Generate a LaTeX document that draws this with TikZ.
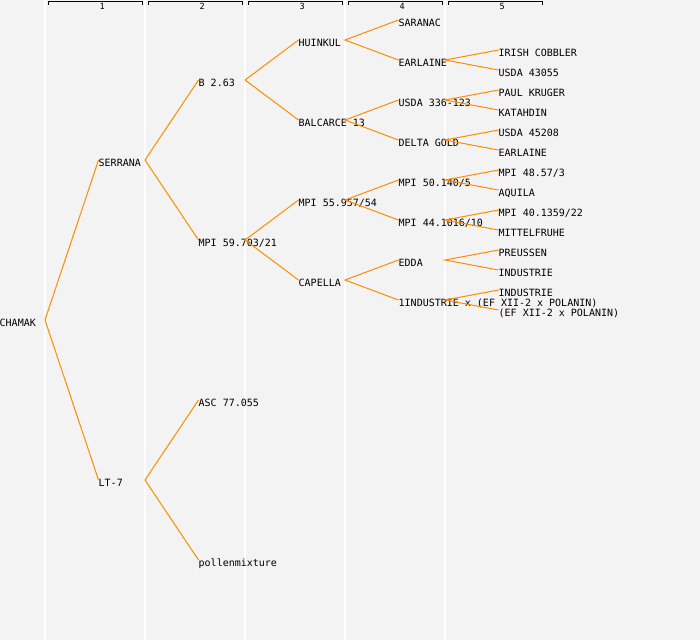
\documentclass[tikz,border=0pt]{standalone}
\usepackage{fontspec}
\newfontfamily\monofnt{DejaVu Sans Mono}
\definecolor{bgray}{RGB}{243,243,243}
\definecolor{lineorange}{RGB}{255,140,0}
\begin{document}
\begin{tikzpicture}[x=1pt,y=-1pt,
  lbl/.style={anchor=west, inner sep=0pt, font=\monofnt\fontsize{10}{12}\selectfont, text height=12pt, text depth=0pt},
  hdr/.style={anchor=base west, inner sep=0pt, font=\monofnt\fontsize{8.5}{9}\selectfont},
  conn/.style={draw=lineorange, line width=1pt},
  sepline/.style={draw=white, line width=1.2pt},
  bracket/.style={draw=black, line width=1pt}]
\useasboundingbox (0,0) rectangle (700,640);
\fill[bgray] (0,0) rectangle (700,640);
% column separators
\foreach \i in {0,...,4} {
  \draw[sepline] ({45+100*\i},0) -- ({45+100*\i},640);
}
% column headers
\foreach \i in {1,...,5} {
  \draw[bracket] ({48.5+100*(\i-1)},4.5) -- ++(0,-3) -- ++(94,0) -- ++(0,3);
  \node[hdr] (h\i) at ({99.5+100*(\i-1)},9.2) {\i};
}
\coordinate (c0) at (45,0);
\coordinate (c1) at (145,0);
\coordinate (c2) at (245,0);
\coordinate (c3) at (345,0);
\coordinate (c4) at (445,0);
% level 0
\node[lbl] (chamak) at (-0.5,320) {CHAMAK};
% level 1
\node[lbl] (serrana) at (98.5,160) {SERRANA};
\node[lbl] (lt7) at (98.5,480) {LT-7};
% level 2
\node[lbl] (b263) at (198.5,80) {B 2.63};
\node[lbl] (mpi59) at (198.5,240) {MPI 59.703/21};
\node[lbl] (asc) at (198.5,400) {ASC 77.055};
\node[lbl] (pollen) at (198.5,560) {pollenmixture};
% level 3
\node[lbl] (huinkul) at (298.5,40) {HUINKUL};
\node[lbl] (balcarce) at (298.5,120) {BALCARCE 13};
\node[lbl] (mpi55) at (298.5,200) {MPI 55.957/54};
\node[lbl] (capella) at (298.5,280) {CAPELLA};
% level 4
\node[lbl] (saranac) at (398.5,20) {SARANAC};
\node[lbl] (earlaineA) at (398.5,60) {EARLAINE};
\node[lbl] (usda336) at (398.5,100) {USDA 336-123};
\node[lbl] (delta) at (398.5,140) {DELTA GOLD};
\node[lbl] (mpi50) at (398.5,180) {MPI 50.140/5};
\node[lbl] (mpi44) at (398.5,220) {MPI 44.1016/10};
\node[lbl] (edda) at (398.5,260) {EDDA};
\node[lbl] (oneind) at (398.5,300) {1INDUSTRIE x (EF XII-2 x POLANIN)};
% level 5
\node[lbl] (irish) at (498.5,50) {IRISH COBBLER};
\node[lbl] (usda430) at (498.5,70) {USDA 43055};
\node[lbl] (paul) at (498.5,90) {PAUL KRUGER};
\node[lbl] (katahdin) at (498.5,110) {KATAHDIN};
\node[lbl] (usda452) at (498.5,130) {USDA 45208};
\node[lbl] (earlaineB) at (498.5,150) {EARLAINE};
\node[lbl] (mpi48) at (498.5,170) {MPI 48.57/3};
\node[lbl] (aquila) at (498.5,190) {AQUILA};
\node[lbl] (mpi40) at (498.5,210) {MPI 40.1359/22};
\node[lbl] (mittel) at (498.5,230) {MITTELFRUHE};
\node[lbl] (preussen) at (498.5,250) {PREUSSEN};
\node[lbl] (indA) at (498.5,270) {INDUSTRIE};
\node[lbl] (indB) at (498.5,290) {INDUSTRIE};
\node[lbl] (efxii) at (498.5,310) {(EF XII-2 x POLANIN)};
% connectors
\draw[conn] (serrana.west) -- (c0 |- chamak.west) -- (lt7.west);
\draw[conn] (b263.west) -- (c1 |- serrana.west) -- (mpi59.west);
\draw[conn] (asc.west) -- (c1 |- lt7.west) -- (pollen.west);
\draw[conn] (huinkul.west) -- (c2 |- b263.west) -- (balcarce.west);
\draw[conn] (mpi55.west) -- (c2 |- mpi59.west) -- (capella.west);
\draw[conn] (saranac.west) -- (c3 |- huinkul.west) -- (earlaineA.west);
\draw[conn] (usda336.west) -- (c3 |- balcarce.west) -- (delta.west);
\draw[conn] (mpi50.west) -- (c3 |- mpi55.west) -- (mpi44.west);
\draw[conn] (edda.west) -- (c3 |- capella.west) -- (oneind.west);
\draw[conn] (irish.west) -- (c4 |- earlaineA.west) -- (usda430.west);
\draw[conn] (paul.west) -- (c4 |- usda336.west) -- (katahdin.west);
\draw[conn] (usda452.west) -- (c4 |- delta.west) -- (earlaineB.west);
\draw[conn] (mpi48.west) -- (c4 |- mpi50.west) -- (aquila.west);
\draw[conn] (mpi40.west) -- (c4 |- mpi44.west) -- (mittel.west);
\draw[conn] (preussen.west) -- (c4 |- edda.west) -- (indA.west);
\draw[conn] (indB.west) -- (c4 |- oneind.west) -- (efxii.west);
\end{tikzpicture}
\end{document}
